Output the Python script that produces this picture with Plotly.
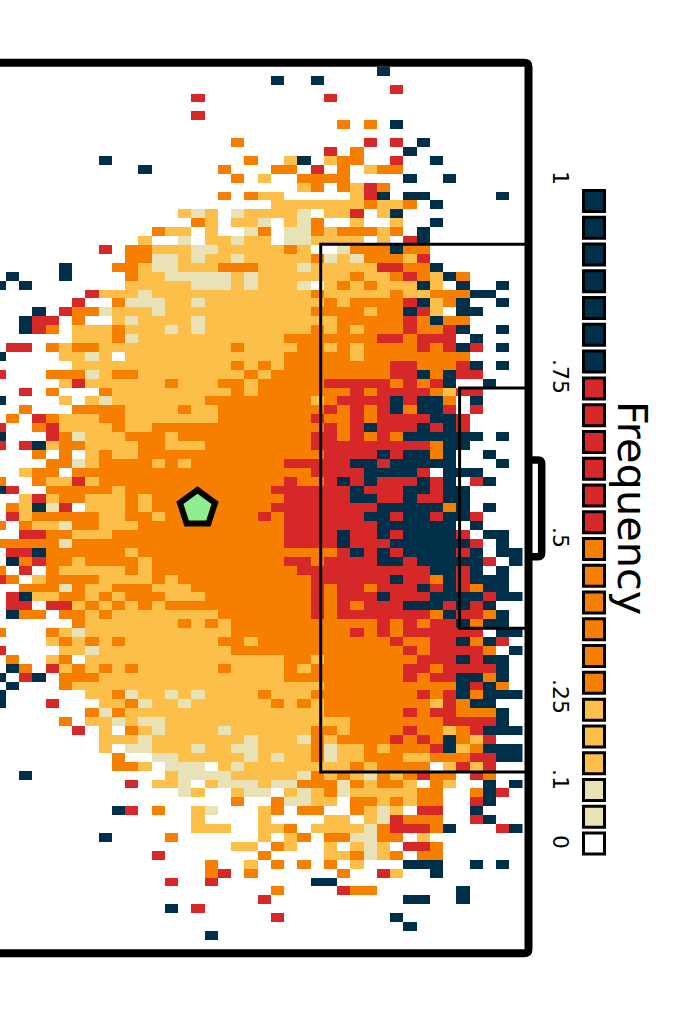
import re
import plotly.graph_objects as go

# Frequency bands, as drawn in the reference
COLOURS = {".": "#FFFFFF", "e": "#EAE2B7", "y": "#FCBF49", "o": "#F77F00", "r": "#D62828", "d": "#003049"}
BAND_VALUE = {".": 0.0, "e": 0.06, "y": 0.17, "o": 0.35, "r": 0.6, "d": 0.87}

# One entry per pitch row, top to bottom: band letter + column (or column range)
ROWS = [
"d29","d21 d24","r30","r15 r25","","r15","o26 o28 d30","","o18 r28 r30 d32","r25 o27 d31",
"d8 o19 y22 d23 y25 o26-27 r30 d33",
"d11 o17 o21-22 r24 o26 y28 o29-30",
"o18 y20 o23-26 d31 d34",
"y23 o24 o26 y27 r28 o29",
"o17 o19 y20 y21 y27 r28 d29 d31-32 d38",
"y21-27 o28 y29-30 o31 d33",
"y14 e15 y16 e18 y19-22 e23 y25-26 r27 y29 d30",
"o15 y16 y18-19 e20 y22 e23 o24 y27 y30 d33",
"o12 y13-14 y16 e19 o20 e22-23 o24 y25 o26-28 y29 o30 d32",
"y11 e14 y16-17 e18 y19-20 e22-23 y24-27 y29 r31 d32",
"r8 o10-11 y12-14 e15-16 y17-21 o22 y23 e26 o27-29 d30 o31-32",
"o10-11 e12-13 y14 e15 y16-17 e18 y19-23 o24 e25 y26 e27 o28-30 y31 r32",
"d5 o9-10 y11 e12-13 y14-16 o17-19 y20-22 e23 y24-28 r29-30 o31-32 d33",
"d1 d5 o10 y11-12 e13-17 y18 e19 y20-26 o27 y28-29 o30 r31 o32 y33 d34 o35",
"d0 d2 y10-14 e15-17 y18 e19 y20-22 e23 y25 o26 y27 o28 y29-31 d32 y33 d35 d38",
"r7 y8-10 e11 y12-23 o24 y25-29 o30 y31-32 o33-35 d36-37",
"r6 o9 e10-12 y13-14 e15 y16-24 o25 y26 o27-30 r31 d32 y33 o34 d35 d38",
"d3 r5 o6-7 e8 y9-11 e12 y13-23 o24-27 y28 o29-30 d31 r32 y33 d35-36",
"d2 r3-4 o6 y9 e10 y11-14 e15 y16-25 o26-30 r31 o32 d33 o34-35",
"d2 r3 o4 y6-8 o9 y10-12 e13 y14 e15 y16-23 o24 y25 o26 y27 o28-30 r31 o32-33 r34 d35 d38",
"y6-8 o9 e10 y11-21 o22-28 r29-30 o31 r32-34 d36",
"r1-2 o4 y5 o6-7 y8-17 o18 y19-22 o23-24 y25 o26 y27 o28-31 r32 o33 r34 d35 r36 d38",
"d0 y5-6 e7 y8 y10-21 o22-26 y27 o28-35",
"y6-17 o18 y19 o20 y21 o22-29 r30-31 o32-34 r35 d36 d38",
"r0 o4-6 e7 y8 o9-10 y11-18 o19 y20 o21-29 r30-31 d32 o33 d34 r35-36",
"y5 r6 y7-12 o13 y14-16 o17-18 y19 o20-24 r25-29 o30 r31 o32 r33 d34 d37",
"r2 o4 o8 y9-17 o18 y19 o20-26 r27 o28 r29-32 o33 y34 r35-36",
"d0 y5 y7 e8 y9-15 o16-23 y24 o25 r26-29 d30 r31 d32-33 o34 d36",
"o2 o6-9 y10-13 o14 y15-16 o17-24 r25 o26 r27 o28 r29 d30 o31 d32-33 r34 r36",
"o1 r3 o4 y5-7 o8-9 y10-16 o17-23 r24 o25-26 r27 o28 r29-32 d33-34 r35",
"r0 o3 r4 y5-8 o9 y10-11 o12-24 r25 o26 r27 d28 r29-31 d32 r33 d34 r35",
"d0 r4 o5 e6 y7-9 o10-12 y13 o14-23 r24-25 o26 r27 o28 r29 o30 d31-36 d38",
"r0 r2 d3 y4 o5-6 y7-10 o11-12 y13-15 o16-23 r24-32 o33 d34-35",
"o3 o5 y7 o8 y9-10 o11-24 r25-28 d29 r30 d31-32 o33 d34 d37",
"o4-5 e6 y7 o8-11 y12 o13 y14 o15-21 r22-26 d27-28 r29 d30-34 d38",
"y2 o3-4 o6-23 r24-27 d28-31 r32 d34-36",
"o0 o3 y4-5 r6 y7 o8-21 r22 o23-24 r25 d26 r27 d28 r29-31 d32 r33 d34 r36 d37",
"d0 r1 o4-8 y9 o10-20 r21-26 d27 r28-30 d31-32 r33 d34-35",
"y2 r3 y4 o5-6 y7-9 o10 y11 o12-21 r22-26 d27-28 r29-30 d31 r32-33 d34-35",
"o1 y2 d3 e4 r5 y7-9 o10 y11 o12-20 r21-28 d29-33 o34 d35 d37",
"r1 y2 o3-7 y8-9 o10-11 y12 o13-19 r20 o21 r22-27 d28-29 r30 d31-32 r33 d34-35 r36",
"o0 o2 y3-4 e5 o6-7 y8-10 o11-21 r22-28 d29-34 d36",
"r2-3 o4-5 y6-8 o9-21 r22-25 d26 r27-28 d29 r30 d31-34 r35 d37-38",
"o0-4 e5 o6-21 r22-25 d26 r27-29 d30-35 r36 d38",
"r1-2 d3 o4-9 y10 o11-25 r26 d27 r28 d29 r30 d31-34 r35 d36 d38-39",
"d1 o2 r3 o4-5 y6 o7-10 y11 o12-21 r22-23 o24 r25-28 d29-30 r31 d32-36 r37 d39",
"o0 r2 o4 y5-9 o10 y11 o12-22 r23-32 d33-34 r35 d36 d38",
"r0 o1 y3 o4-7 y8-11 o12 y13 o14-23 r24-29 d30 r31-32 o33 d34 r35 d36-38",
"o2-4 e5 o6 y7-8 o9-11 y12-14 o15-23 r24 o25 r26-27 o28 r29-31 d32 r33 d34 r35 o36 d37-38",
"r1 d2 y3-4 o5-6 y7 o8 y9 o10-12 y13-15 o16-23 r24 o25 r26-28 d29 r30-32 d33-36 r37 d38-39",
"r1-2 r4-5 y6 o7 y8 o9 y10 o11 y12 o13-23 r24 o25 r26 o27 r28-30 d31-33 r34 d35 r36 d37",
"d1 o2-3 o5-6 y7 o8 y9-16 o17-23 r24 o25 r26-32 o33 d34 r35-36 o37 d38",
"o6 y7-13 o14 y15 o16 y17 o18-28 r29 o30 r31 o32 r33-34 d35 o36 d37-38",
"o0 o4 y5 e6 y7-17 o18-26 r27 o28 r29 o30 r31-36 d38-39",
"y4 o5 y6 o7 y8 o9 y10-16 o17-18 y19 o20-29 r30 o31-32 r33-34 d35 o36 d37 r38",
"r0 y5-6 e7 y8-17 o18-30 r31 o32 r33-36 o37 d39",
"o1 y4 o5 y7-21 o22-23 y24 o25-31 r32-34 d35 r36 d37-38",
"d1 o2 r4 y5 o6 y7 o8 y9 o10 y11-16 o17 y18-21 o22 y23 o24-30 r31-32 o33 r34-37 d38",
"d0 r2 d3 o5-7 y8-21 o22-30 r31 o32 r33-34 d35-36 o37 d38",
"d1 o5 y6-24 o25-34 d35 r36 d37 o38",
"d0 y7-8 o9 e10 y11-12 e13 y14 e15 y16-19 o20 y21-23 o24-31 r32 o33 r34 d35 o36 d37-39",
"d0 r4 y8-9 o10 e11 y12-13 e14 y15-20 o21 y22 o23 y24 o25-32 y33 r34 o35 d36-37",
"o7 e8 o9 y10-24 o25-30 r31 o32 r33-34 o35-37 d38",
"o5 y7-8 e9 y10 e11-12 y13-26 o27-33 r34-37 d38",
"r6 y8 o10 y11 e12 y13-16 e17 y18-23 o24-25 y26 o27-30 r31 o32-33 y34 o35 r36 d37-39",
"y8-10 e11 y12-18 e19 y20-22 e23 o24 y25 o26-29 r30 o31 r32 o33 d34 o35 y36 r37",
"y8 e10-11 y12-14 e15 y16-17 e18-19 y20-23 o24 e25 y26-27 o28 y29 o30-32 r33 d34 y35 o36 d37-39",
"o9 e12-13 y14-18 e19 y20 e21 y22-23 o24 e25 y26-27 o28-30 y31-32 o33-35 r36-37 d38-39",
"o9-10 y11 e13-15 y17 e18 y19-26 o27 y28 o29-32 y34 r35 y36 r37",
"d2 y13 e14-17 y18-22 e23 o24 y25 o26 y27 e28 o29 y30 o31 r32 o33-34 r36 o37",
"r10 y12-13 e14 y16 e17-19 y20 e21-22 o23-25 e26 o27 y28 o29-30 y31 o33 y34 d37 d39",
"e14 y15 y18 e19-20 y22 e23 y24 o25 e26 y27-31 o32-33 o36 d37 r38",
"o18 o21 e22-23 y24-25 o27-28 y29 o30 y31 o32-33 r36 d37",
"d9 r10 o12 y15 e16 y20 o21 o23-24 o27 y28 e29 y30 r32-33 d36",
"y15 y20 y25-26 y28 e29 r30 o31-33 r36 d37",
"y15-17 y20 y21 o22 y24-27 e28 o29 r30-32 o33 d34 r38 d39",
"d8 o13 y20 y22 o23 o25-26 e27-28 o29-30 y32",
"y18-19 o21 y22 y25 y27 e28 y29 r31-32 o33",
"r12 o20 y25-26 o27 e28 y29 o30 o32-33",
"o16 y19 o21 o23 o25 y27 d31-33 d36 d38",
"o16 r17 o19 o26 r29 y30 d33",
"r13 r16 d24-25",
"o21 r26 o27-28 d35",
"r20 d31-32 d35",
"d13 r15",
"r21 d30",
"d31",
"d16",
"",
]

LEGEND_VALUES = [1 - i / 24 for i in range(25)]
LEGEND_TICKS = ["1", ".75", ".5", ".25", ".1", "0"]
LEGEND_TITLE = "Frequency"

N_COLS = 40
W, H = 679, 1017
CELL_W, CELL_H = 13.25, 8.91
X0, Y0 = 5.75, 66.8


def gx(px):
    return (px - X0) / CELL_W + 0.5


def gy(py):
    return (py - Y0) / CELL_H - 0.5


def band_of(v):
    if v < 0.02:
        return "."
    if v < 0.1:
        return "e"
    if v < 0.229:
        return "y"
    if v < 0.479:
        return "o"
    if v < 0.729:
        return "r"
    return "d"


# Expand rows into the grid
z = []
for row in ROWS:
    cells = [BAND_VALUE["."]] * N_COLS
    for band, a, b in re.findall(r"([eyord])(\d+)(?:-(\d+))?", row):
        for c in range(int(a), int(b or a) + 1):
            cells[c] = BAND_VALUE[band]
    z.append(cells)

colorscale = [
    [0, COLOURS["."]], [0.02, COLOURS["."]],
    [0.02, COLOURS["e"]], [0.1, COLOURS["e"]],
    [0.1, COLOURS["y"]], [0.229, COLOURS["y"]],
    [0.229, COLOURS["o"]], [0.479, COLOURS["o"]],
    [0.479, COLOURS["r"]], [0.729, COLOURS["r"]],
    [0.729, COLOURS["d"]], [1, COLOURS["d"]],
]

fig = go.Figure()
fig.add_trace(go.Heatmap(
    z=z, x=list(range(N_COLS)), y=list(range(len(ROWS))),
    colorscale=colorscale, zmin=0, zmax=1, showscale=False, hoverinfo="skip",
))

# Mean position marker
fig.add_trace(go.Scatter(
    x=[gx(197.5)], y=[gy(508.5)], mode="markers", hoverinfo="skip",
    marker=dict(symbol="pentagon", size=37, color="#90EE90",
                line=dict(color="black", width=6)),
))

# Legend swatches
fig.add_trace(go.Scatter(
    x=[gx(594)] * len(LEGEND_VALUES),
    y=[gy(201 + 26.77 * i) for i in range(len(LEGEND_VALUES))],
    mode="markers", hoverinfo="skip",
    marker=dict(symbol="square", size=21, color=[COLOURS[band_of(v)] for v in LEGEND_VALUES],
                line=dict(color="black", width=3)),
))


def path(points):
    out = []
    for i, p in enumerate(points):
        if p[0] == "Q":
            out.append(f"Q {gx(p[1])},{gy(p[2])} {gx(p[3])},{gy(p[4])}")
        else:
            out.append(("M" if i == 0 else "L") + f" {gx(p[0])},{gy(p[1])}")
    return " ".join(out)


def line_shape(points, width):
    return dict(type="path", path=path(points), xref="x", yref="y", layer="above",
                line=dict(color="black", width=width))


shapes = [
    line_shape([(532, 460), (538, 460), ("Q", 541.7, 460, 541.7, 464), (541.7, 552.5),
                ("Q", 541.7, 556.7, 538, 556.7), (532, 556.7)], 7.5),
    line_shape([(528, 244.2), (320.7, 244.2), (320.7, 772), (528, 772)], 3),
    line_shape([(528, 388), (459.6, 388), (459.6, 628.3), (528, 628.3)], 3),
    line_shape([(-5, 62.8), (524, 62.8), ("Q", 528.5, 62.8, 528.5, 67), (528.5, 949),
                ("Q", 528.5, 953.2, 524, 953.2), (-5, 953.2)], 8),
]

annotations = [
    dict(x=gx(633), y=gy(508), xref="x", yref="y", text=LEGEND_TITLE, textangle=90, showarrow=False,
         font=dict(family="DejaVu Sans", size=41.5, color="black")),
]
for label, py in zip(LEGEND_TICKS, [178, 376, 537, 696, 779, 842]):
    annotations.append(dict(x=gx(561), y=gy(py), xref="x", yref="y", text=label, textangle=90,
                            showarrow=False, font=dict(family="DejaVu Sans", size=22, color="black")))

fig.update_layout(
    width=W, height=H, margin=dict(l=0, r=0, t=0, b=0),
    paper_bgcolor="white", plot_bgcolor="white", showlegend=False,
    xaxis=dict(range=[gx(0), gx(W)], visible=False, domain=[0, 1], fixedrange=True),
    yaxis=dict(range=[gy(H), gy(0)], visible=False, domain=[0, 1], fixedrange=True),
    shapes=shapes, annotations=annotations,
)

fig.write_html("out.html", config={"displayModeBar": False},
               post_script="document.body.style.margin='0';document.documentElement.style.overflow='hidden';")
